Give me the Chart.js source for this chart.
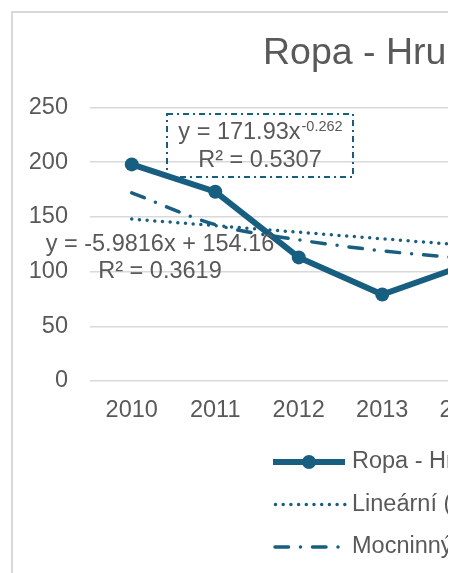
<!DOCTYPE html>
<html>
<head>
<meta charset="utf-8">
<script src="https://cdn.jsdelivr.net/npm/chart.js@4.4.0/dist/chart.umd.min.js"></script>
<style>
    html, body { margin: 0; padding: 0; background: #fff; overflow: hidden; }
    #wrap { width: 448px; height: 573px; overflow: hidden; }
</style>
</head>
<body>
<div id="wrap"><canvas id="chart" width="520" height="590"></canvas></div>
<script>
// Data
const years = ['2010', '2011', '2012', '2013', '2014'];
const seriesName = 'Ropa - Hrubá';
const ropa = [198, 173, 113, 79, 106];
const linearTrend = [148, 142, 136, 130, 124];
const powerTrend = [172, 143, 129, 119, 112];
const yTicks = [0, 50, 100, 150, 200, 250];
const linearLabel = ['y = -5.9816x + 154.16', 'R² = 0.3619'];
const powerLabel = ['y = 171.93x', '-0.262', 'R² = 0.5307'];

const BLUE = '#185e80';
const TEXT = '#595959';
const FONT = '"Liberation Sans", Arial, sans-serif';

// Chart frame + title (title is left part of a wider, cropped chart)
const framePlugin = {
    id: 'frame',
    beforeDraw: (chart) => {
        const ctx = chart.ctx;
        ctx.save();
        ctx.strokeStyle = '#d9d9d9';
        ctx.lineWidth = 2;
        ctx.strokeRect(12, 12, chart.width + 20, chart.height + 20);
        ctx.fillStyle = TEXT;
        ctx.font = '37.5px ' + FONT;
        ctx.textAlign = 'left';
        ctx.textBaseline = 'middle';
        ctx.fillText(seriesName, 263, 54);
        ctx.restore();
    },
};

// Trendline equations
const equationPlugin = {
    id: 'equations',
    afterDatasetsDraw: (chart) => {
        const ctx = chart.ctx;
        ctx.save();
        // power trendline label, in a dash-dot box
        ctx.strokeStyle = BLUE;
        ctx.lineWidth = 2;
        ctx.setLineDash([6, 4, 2, 4]);
        ctx.strokeRect(167, 114, 186, 63);
        ctx.setLineDash([]);

        ctx.fillStyle = TEXT;
        ctx.textBaseline = 'middle';
        ctx.font = '23.5px ' + FONT;
        const mainW = ctx.measureText(powerLabel[0]).width;
        ctx.font = '14.5px ' + FONT;
        const supW = ctx.measureText(powerLabel[1]).width;
        const startX = 260 - (mainW + supW) / 2;
        ctx.textAlign = 'left';
        ctx.font = '23.5px ' + FONT;
        ctx.fillText(powerLabel[0], startX, 133);
        ctx.font = '14.5px ' + FONT;
        ctx.fillText(powerLabel[1], startX + mainW + 1, 127);

        ctx.textAlign = 'center';
        ctx.font = '23.5px ' + FONT;
        ctx.fillText(powerLabel[2], 260, 161);

        // linear trendline label
        ctx.fillText(linearLabel[0], 160, 245);
        ctx.fillText(linearLabel[1], 160, 272);
        ctx.restore();
    },
};

// Stacked legend below the plot
const legendPlugin = {
    id: 'stackedLegend',
    afterDraw: (chart) => {
        const ctx = chart.ctx;
        const x0 = 273;
        const len = 72;
        chart.data.datasets.forEach((ds, i) => {
            const y = 462 + i * 42.5;
            ctx.save();
            ctx.strokeStyle = ds.borderColor;
            ctx.lineWidth = ds.borderWidth;
            ctx.lineCap = ds.borderCapStyle || 'butt';
            ctx.setLineDash(ds.borderDash || []);
            ctx.beginPath();
            ctx.moveTo(x0 + (ds.legendInset || 0), y);
            ctx.lineTo(x0 + len, y);
            ctx.stroke();
            ctx.setLineDash([]);
            if (ds.pointRadius) {
                ctx.fillStyle = ds.borderColor;
                ctx.beginPath();
                ctx.arc(x0 + len / 2, y, ds.pointRadius, 0, Math.PI * 2);
                ctx.fill();
            }
            ctx.fillStyle = TEXT;
            ctx.font = '23.5px ' + FONT;
            ctx.textAlign = 'left';
            ctx.textBaseline = 'middle';
            ctx.fillText(ds.label, x0 + len + 7, y);
            ctx.restore();
        });
    },
};

new Chart(document.getElementById('chart'), {
    type: 'line',
    data: {
        labels: years,
        datasets: [
            {
                label: seriesName,
                data: ropa,
                borderColor: BLUE,
                backgroundColor: BLUE,
                borderWidth: 6,
                pointRadius: 7,
                pointBackgroundColor: BLUE,
                pointBorderWidth: 0,
                tension: 0,
            },
            {
                label: 'Lineární (' + seriesName + ')',
                data: linearTrend,
                borderColor: BLUE,
                borderWidth: 3.5,
                borderDash: [0, 7.7],
                borderCapStyle: 'round',
                legendInset: 2.5,
                pointRadius: 0,
                tension: 0,
            },
            {
                label: 'Mocninný (' + seriesName + ')',
                data: powerTrend,
                borderColor: BLUE,
                borderWidth: 3.5,
                borderDash: [13.5, 12, 0, 12],
                borderCapStyle: 'round',
                legendInset: 2,
                pointRadius: 0,
                tension: 0.4,
                cubicInterpolationMode: 'monotone',
            },
        ],
    },
    plugins: [framePlugin, equationPlugin, legendPlugin],
    options: {
        responsive: false,
        animation: false,
        layout: {
            padding: { left: 12, top: 107.5, right: 12.5, bottom: 159 },
        },
        plugins: {
            legend: { display: false },
            title: { display: false },
            tooltip: { enabled: false },
        },
        scales: {
            x: {
                offset: true,
                grid: { display: false, drawTicks: false, offset: true },
                border: { display: false },
                ticks: {
                    color: TEXT,
                    font: { family: FONT, size: 23.5 },
                    padding: 15,
                    maxRotation: 0,
                },
                afterFit: (scale) => {
                    scale.height = 50;
                },
            },
            y: {
                min: yTicks[0],
                max: yTicks[yTicks.length - 1],
                ticks: {
                    stepSize: yTicks[1] - yTicks[0],
                    color: TEXT,
                    font: { family: FONT, size: 23.5 },
                    padding: 22,
                },
                grid: { color: '#d9d9d9', lineWidth: 1.5, drawTicks: false },
                border: { display: false },
                afterFit: (scale) => {
                    scale.width = 78;
                },
            },
        },
    },
});
</script>
</body>
</html>
